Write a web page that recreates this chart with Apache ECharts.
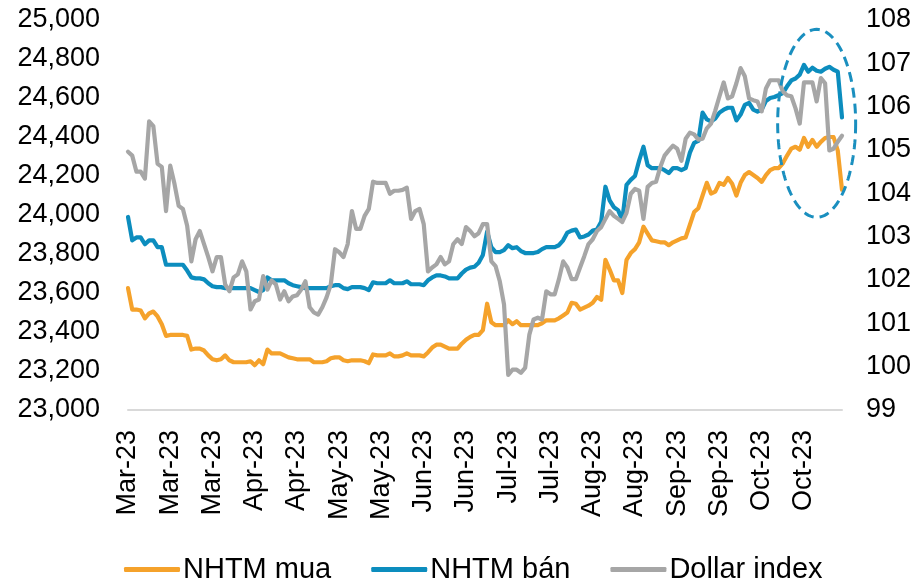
<!DOCTYPE html>
<html>
<head>
<meta charset="utf-8">
<script src="https://cdn.jsdelivr.net/npm/echarts@6/dist/echarts.min.js"></script>
<style>
html,body{margin:0;padding:0;background:#fff;}
#chart{width:921px;height:580px;}
</style>
</head>
<body>
<div id="chart"></div>
<script>
// ---- Data ----
const seriesNames = ['NHTM mua', 'NHTM bán', 'Dollar index'];
const startDate = '2023-03-01';
const endDate = '2023-10-31';
const holidays = ['2023-05-01', '2023-05-02', '2023-05-03', '2023-09-01', '2023-09-04'];
const monthNames = ['Jan','Feb','Mar','Apr','May','Jun','Jul','Aug','Sep','Oct','Nov','Dec'];
const leftTicks = { min: 23000, max: 25000, interval: 200 };
const rightTicks = { min: 99, max: 108, interval: 1 };

const nhtmMua = [23625,23515,23515,23510,23470,23495,23505,23480,23440,23380,
23385,23385,23385,23385,23380,23310,23315,23315,23305,23280,
23260,23255,23260,23280,23255,23245,23245,23245,23245,23250,
23230,23255,23235,23310,23290,23290,23290,23280,23270,23265,
23260,23260,23260,23260,23245,23245,23245,23250,23265,23270,
23270,23255,23250,23255,23255,23255,23250,23240,23285,23280,
23280,23280,23290,23275,23275,23280,23290,23280,23280,23280,
23275,23295,23320,23335,23335,23325,23315,23315,23315,23340,
23360,23375,23385,23385,23410,23545,23450,23435,23435,23435,
23460,23440,23455,23435,23435,23435,23435,23435,23445,23460,
23460,23460,23470,23485,23500,23550,23545,23515,23525,23535,
23550,23580,23565,23770,23720,23665,23665,23600,23770,23805,
23825,23860,23940,23905,23870,23865,23860,23860,23845,23860,
23870,23880,23885,23950,24015,24035,24100,24165,24110,24120,
24165,24155,24190,24160,24100,24165,24205,24220,24205,24190,
24170,24205,24230,24240,24240,24265,24305,24340,24350,24335,
24395,24350,24385,24350,24375,24395,24400,24400,24330,24130];

const nhtmBan = [23990,23870,23885,23885,23850,23870,23870,23835,23835,23745,
23745,23745,23745,23745,23715,23680,23675,23675,23670,23650,
23635,23630,23630,23625,23625,23625,23625,23625,23625,23625,
23615,23605,23615,23680,23665,23665,23665,23665,23650,23640,
23635,23630,23625,23625,23625,23625,23625,23625,23635,23640,
23640,23625,23620,23630,23630,23630,23625,23615,23655,23650,
23650,23650,23665,23650,23650,23650,23660,23645,23645,23645,
23640,23665,23680,23690,23690,23685,23675,23675,23675,23700,
23720,23730,23735,23755,23795,23915,23835,23810,23810,23820,
23845,23830,23835,23815,23805,23805,23805,23810,23825,23835,
23835,23835,23845,23870,23910,23920,23925,23885,23890,23900,
23920,23925,23965,24145,24075,24040,24025,23975,24155,24180,
24200,24280,24350,24255,24240,24240,24240,24230,24215,24240,
24240,24230,24240,24320,24370,24380,24525,24490,24480,24495,
24525,24540,24550,24550,24485,24515,24565,24575,24540,24530,
24540,24585,24600,24605,24615,24625,24660,24690,24700,24720,
24770,24735,24755,24740,24735,24750,24760,24745,24735,24500];

const dollarIndex = [104.96,104.87,104.50,104.50,104.34,105.66,105.55,104.68,104.61,103.59,
104.64,104.22,103.71,103.64,103.25,102.43,102.94,103.13,102.83,102.53,
102.20,102.53,102.53,101.90,101.74,102.06,102.13,102.43,102.20,101.32,
101.51,101.55,102.09,101.78,101.99,101.90,101.55,101.74,101.51,101.62,
101.65,101.78,101.97,101.37,101.25,101.20,101.37,101.60,101.90,102.71,
102.64,102.53,102.83,103.59,103.18,103.18,103.48,103.64,104.27,104.24,
104.24,104.24,103.99,104.06,104.06,104.08,104.13,103.41,103.59,103.64,
103.29,102.20,102.29,102.36,102.53,102.36,102.43,102.83,102.94,102.83,
103.22,103.13,103.01,103.08,103.29,103.29,102.43,102.32,101.97,101.44,
99.81,99.93,99.93,99.86,99.97,100.74,101.09,101.13,101.09,101.74,
101.67,101.67,102.02,102.43,102.29,102.02,102.02,102.29,102.55,102.83,
102.94,103.13,103.22,103.41,103.59,103.48,103.41,103.34,103.55,103.99,
104.10,104.06,103.41,104.15,104.24,104.27,104.61,104.87,104.99,105.10,
105.03,104.75,105.26,105.40,105.36,105.24,105.26,105.50,105.61,105.91,
106.24,106.56,106.19,106.24,106.54,106.89,106.70,106.19,106.15,106.12,
105.89,106.42,106.61,106.61,106.61,106.35,106.26,106.24,105.96,105.61,
106.56,106.56,106.56,106.12,106.66,106.54,104.99,105.03,105.19,105.33];

// highlighted region (data coords): category index and left-axis value
const highlight = { index: 163, value: 24470 };

// ---- Build categories (business days) ----
function pad(n){ return n < 10 ? '0' + n : '' + n; }
const categories = [];
{
  const d = new Date(startDate + 'T00:00:00Z');
  const end = new Date(endDate + 'T00:00:00Z');
  while (d <= end) {
    const wd = d.getUTCDay();
    const key = d.getUTCFullYear() + '-' + pad(d.getUTCMonth() + 1) + '-' + pad(d.getUTCDate());
    if (wd !== 0 && wd !== 6 && holidays.indexOf(key) < 0) categories.push(key);
    d.setUTCDate(d.getUTCDate() + 1);
  }
}
function fmtCat(s){
  const m = parseInt(s.slice(5,7), 10);
  return monthNames[m - 1] + '-' + s.slice(2,4);
}

const FONT = 'Arial, "Liberation Sans", sans-serif';
const COLORS = ['#F5A22B', '#0C8DBE', '#A6A6A6'];

const chart = echarts.init(document.getElementById('chart'), null, { renderer: 'canvas' });
chart.setOption({
  animation: false,
  backgroundColor: '#ffffff',
  color: COLORS,
  grid: { left: 128, right: 79, top: 20, bottom: 170, containLabel: false },
  legend: {
    data: seriesNames,
    left: 119,
    top: 550,
    itemWidth: 56,
    itemHeight: 5,
    itemGap: 40,
    icon: 'roundRect',
    textStyle: { fontFamily: FONT, fontSize: 29, color: '#000', padding: [0,0,0,-2] }
  },
  xAxis: {
    type: 'category',
    data: categories,
    boundaryGap: false,
    axisLine: { show: true, lineStyle: { color: '#D9D9D9', width: 2 } },
    axisTick: { show: false },
    splitLine: { show: false },
    axisLabel: {
      interval: 9,
      rotate: 90,
      margin: 20,
      fontFamily: FONT,
      fontSize: 27,
      color: '#000',
      formatter: fmtCat
    }
  },
  yAxis: [
    {
      type: 'value',
      min: leftTicks.min, max: leftTicks.max, interval: leftTicks.interval,
      axisLine: { show: false }, axisTick: { show: false }, splitLine: { show: false },
      axisLabel: {
        margin: 28, fontFamily: FONT, fontSize: 27, color: '#000',
        formatter: v => v.toLocaleString('en-US')
      }
    },
    {
      type: 'value',
      min: rightTicks.min, max: rightTicks.max, interval: rightTicks.interval,
      axisLine: { show: false }, axisTick: { show: false }, splitLine: { show: false },
      axisLabel: { margin: 24, fontFamily: FONT, fontSize: 27, color: '#000' }
    }
  ],
  series: [
    { name: seriesNames[0], type: 'line', data: nhtmMua, yAxisIndex: 0, showSymbol: false, symbol: 'none',
      lineStyle: { width: 4.2, color: COLORS[0], join: 'round', cap: 'round' }, z: 2 },
    { name: seriesNames[1], type: 'line', data: nhtmBan, yAxisIndex: 0, showSymbol: false, symbol: 'none',
      lineStyle: { width: 4.2, color: COLORS[1], join: 'round', cap: 'round' }, z: 3 },
    { name: seriesNames[2], type: 'line', data: dollarIndex, yAxisIndex: 1, showSymbol: false, symbol: 'none',
      lineStyle: { width: 4.2, color: COLORS[2], join: 'round', cap: 'round' }, z: 4 }
  ]
});

// dashed ellipse annotation anchored to data coordinates
const c = chart.convertToPixel({ xAxisIndex: 0, yAxisIndex: 0 }, [highlight.index, highlight.value]);
const rx = 39, ry = 94;
const pts = [];
for (let k = 0; k <= 120; k++) {
  const t = k / 120 * Math.PI * 2;
  pts.push([c[0] + rx * Math.cos(t), c[1] + ry * Math.sin(t)]);
}
chart.setOption({
  graphic: [{
    type: 'polyline',
    shape: { points: pts },
    style: { stroke: '#1A8FBF', lineWidth: 3, lineDash: [10, 6], fill: null },
    z: 100
  }]
});
</script>
</body>
</html>
